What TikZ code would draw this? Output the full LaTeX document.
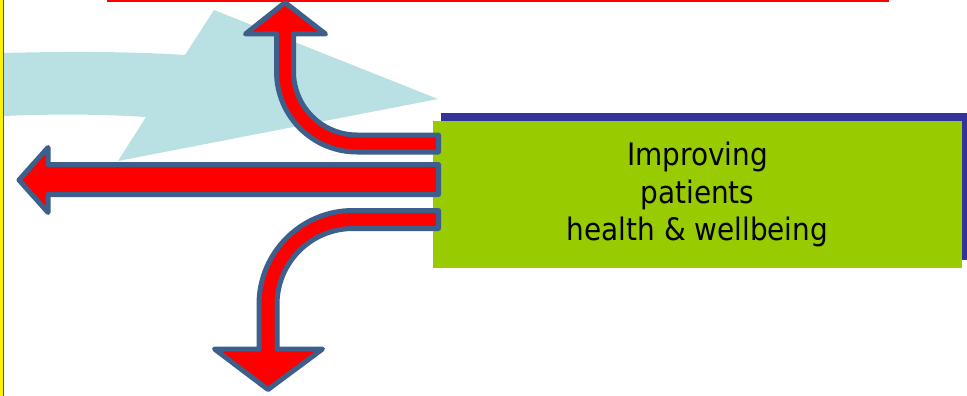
\documentclass[tikz,border=0pt]{standalone}
\usepackage{fontspec}
\setsansfont{DejaVu Sans Condensed}
\usetikzlibrary{shadows}
\definecolor{arrowred}{RGB}{255,0,0}
\definecolor{arrowrim}{RGB}{60,95,140}
\definecolor{flowblue}{RGB}{185,224,227}
\definecolor{boxgreen}{RGB}{153,204,0}
\definecolor{boxshadow}{RGB}{51,51,153}
\tikzset{
	redarrow/.style={fill=arrowred, draw=arrowrim, line width=5pt, line join=round},
	goalbox/.style={rectangle, fill=boxgreen, minimum width=529pt, minimum height=147pt,
		inner sep=0pt, align=center, font=\sffamily\fontsize{31}{37.5}\selectfont,
		drop shadow={shadow xshift=8pt, shadow yshift=8pt, fill=boxshadow, opacity=1}}
}
\begin{document}
\begin{tikzpicture}[x=1pt,y=-1pt]
	\useasboundingbox (0,0) rectangle (967,396);
	
	\fill[yellow] (0,0) rectangle (2.7,396);
	\fill[red] (2.7,0) rectangle (4,396);
	\fill[red] (107,0) rectangle (889,2);
	
	\fill[flowblue] (4,53) .. controls (80,51) and (140,52) .. (185,55) -- (214,10) -- (438,99) -- (118,161) -- (146,117) .. controls (100,114) and (50,114) .. (4,116) -- cycle;
	
	\node[goalbox] (goal) at (697.5,194.5) {Improving\\patients\\health \& wellbeing};
	
	\draw[redarrow] (438.5,135) -- (357,135) arc[start angle=90, end angle=180, radius=63.5] -- (293.5,34) -- (325.5,34) -- (285,2.5) -- (245.5,34) -- (276.5,34) -- (276.5,71.5) arc[start angle=180, end angle=90, radius=80.5] -- (438.5,152) -- cycle;
	\draw[redarrow] (438.5,164.5) -- (48,164.5) -- (48,147.5) -- (19,180) -- (48,212.5) -- (48,194.5) -- (438.5,194.5) -- cycle;
	\draw[redarrow] (438.5,210.5) -- (353,210.5) arc[start angle=270, end angle=180, radius=94] -- (259,349) -- (214.5,349) -- (268,389.5) -- (322.5,349) -- (277,349) -- (277,304.5) arc[start angle=180, end angle=270, radius=76] -- (438.5,228.5) -- cycle;
\end{tikzpicture}
\end{document}
